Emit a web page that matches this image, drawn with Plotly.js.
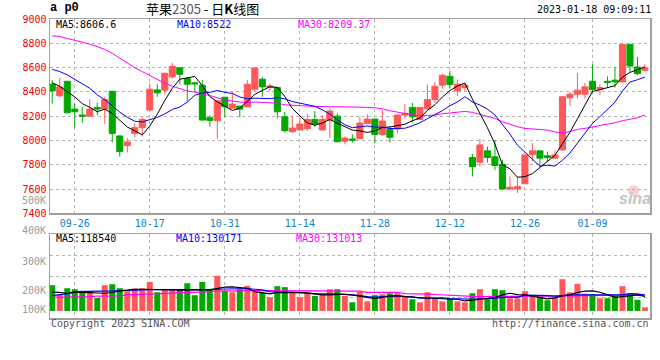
<!DOCTYPE html>
<html><head><meta charset="utf-8">
<script src="https://cdn.plot.ly/plotly-3.0.1.min.js"></script>
<style>html,body{margin:0;padding:0;background:#fff}#chart{width:660px;height:360px}</style>
</head><body><div id="chart"></div>
<script>
// ---- data ----
const dates = ['09-21','09-22','09-23','09-26','09-27','09-28','09-29','09-30',
 '10-10','10-11','10-12','10-13','10-14','10-17','10-18','10-19','10-20','10-21','10-24','10-25','10-26','10-27','10-28','10-31',
 '11-01','11-02','11-03','11-04','11-07','11-08','11-09','11-10','11-11','11-14','11-15','11-16','11-17','11-18','11-21','11-22','11-23','11-24','11-25','11-28','11-29','11-30',
 '12-01','12-02','12-05','12-06','12-07','12-08','12-09','12-12','12-13','12-14','12-15','12-16','12-19','12-20','12-21','12-22','12-23','12-26','12-27','12-28','12-29','12-30',
 '01-03','01-04','01-05','01-06','01-09','01-10','01-11','01-12','01-13','01-16','01-17','01-18'];
const openP = [8463,8367,8487,8258,8209,8200,8272,8258,8405,8037,
 7957,8058,8105,8250,8416,8414,8523,8599,8509,8474,
 8455,8187,8162,8356,8266,8283,8277,8422,8504,8436,
 8436,8195,8072,8086,8097,8173,8086,8168,8200,7993,
 8012,8015,8140,8176,8048,8091,8094,8209,8272,8173,
 8261,8337,8455,8528,8408,8436,7859,7821,7914,7865,
 7804,7600,7602,7643,7884,7914,7873,7854,7922,8351,
 8381,8381,8487,8422,8487,8496,8482,8791,8605,8578];
const highP = [8496,8517,8490,8304,8277,8340,8310,8359,8405,8040,
 8018,8140,8190,8468,8463,8556,8638,8600,8523,8482,
 8496,8209,8326,8356,8400,8283,8496,8600,8523,8468,
 8436,8236,8200,8190,8217,8242,8209,8263,8222,8031,
 8050,8195,8214,8176,8250,8113,8209,8299,8310,8272,
 8460,8482,8550,8572,8501,8474,7889,8012,7949,8004,
 7840,7703,7703,7881,7977,7914,7908,7916,8364,8400,
 8556,8474,8627,8463,8528,8605,8796,8791,8687,8627];
const lowP = [8304,8359,8225,8105,8146,8195,8206,8135,7985,7867,
 7900,8023,8031,8250,8359,8381,8509,8463,8324,8400,
 8162,8113,8015,8195,8266,8190,8272,8403,8359,8405,
 8181,8064,8064,8086,8080,8113,8086,8023,7982,7968,
 7982,8015,8132,7977,8037,7982,8058,8181,8149,8173,
 8250,8310,8427,8427,8367,8408,7703,7785,7818,7758,
 7595,7590,7567,7643,7829,7780,7821,7854,7916,8283,
 8345,8345,8386,8373,8436,8436,8482,8564,8537,8564];
const closeP = [8408,8441,8228,8236,8200,8258,8258,8337,8058,7908,
 7987,8105,8173,8422,8392,8553,8610,8545,8463,8466,
 8168,8165,8326,8277,8299,8258,8463,8597,8441,8449,
 8236,8080,8102,8135,8173,8135,8173,8242,7990,8020,
 8001,8143,8176,8050,8160,8026,8209,8222,8195,8272,
 8337,8446,8537,8460,8463,8455,7784,7963,7859,7793,
 7600,7615,7620,7881,7914,7854,7859,7881,8359,8381,
 8414,8441,8420,8436,8476,8482,8791,8613,8550,8597];
const ma5P = [8474,8446,8400,8359,8303,8273,8236,8258,8222,8164,
 8110,8079,8046,8119,8216,8329,8430,8504,8513,8527,
 8450,8361,8318,8280,8247,8265,8325,8379,8412,8442,
 8437,8361,8262,8200,8145,8125,8144,8172,8143,8112,
 8085,8079,8066,8078,8106,8111,8124,8133,8162,8185,
 8247,8294,8357,8410,8449,8472,8340,8225,8105,7971,
 7800,7766,7697,7702,7726,7777,7826,7878,7973,8067,
 8179,8295,8403,8418,8437,8451,8521,8560,8582,8606.6];
const ma10P = [8586,8567,8540,8505,8468,8430,8375,8335,8285,8233,
 8191,8158,8152,8171,8190,8219,8255,8275,8316,8372,
 8390,8396,8411,8397,8387,8358,8343,8348,8346,8344,
 8351,8343,8320,8306,8293,8281,8252,8217,8172,8129,
 8105,8111,8119,8110,8109,8098,8102,8100,8120,8145,
 8179,8209,8245,8286,8317,8360,8317,8291,8258,8210,
 8136,8053,7961,7903,7848,7788,7796,7788,7838,7896,
 7978,8060,8140,8196,8252,8315,8408,8481,8500,8522];
const ma30P = [8862,8856,8840,8826,8813,8793,8772,8750,8717,8676,
 8635,8599,8567,8534,8498,8471,8446,8425,8408,8397,
 8386,8370,8351,8334,8324,8315,8310,8316,8315,8313,
 8307,8293,8288,8285,8283,8280,8277,8277,8277,8277,
 8277,8274,8272,8269,8261,8244,8233,8217,8209,8201,
 8206,8209,8220,8225,8233,8239,8231,8214,8201,8181,
 8154,8132,8113,8099,8094,8091,8086,8070,8062,8072,
 8091,8099,8110,8124,8135,8146,8162,8173,8187,8209.37];
// volume in thousands (K)
const volK = [211,132,186,178,164,162,107,211,219,186,
 162,184,186,238,153,175,175,173,227,129,
 238,181,288,164,153,178,205,159,151,112,
 203,195,159,112,145,123,132,178,178,123,
 71,159,79,129,137,145,145,118,96,71,
 153,104,79,99,79,71,145,178,104,178,
 170,104,104,162,118,115,88,112,260,153,
 222,142,137,104,104,123,203,145,92,30];
const vma5K = [153,153,142,153,153,151,148,145,151,164,
 170,178,178,178,173,173,173,170,173,173,
 173,173,186,195,197,192,186,159,151,140,
 151,153,153,153,148,137,132,132,137,137,
 132,123,112,101,112,123,123,118,115,104,
 104,104,99,96,96,82,88,99,104,110,
 132,145,134,132,121,112,99,107,123,132,
 151,162,164,153,132,112,118,126,132,118.54];
const vma10K = [126,132,142,159,159,159,159,159,164,167,
 170,170,173,175,175,175,170,170,170,170,
 170,175,178,181,184,184,184,178,173,159,
 153,153,153,151,145,140,137,140,140,137,
 129,126,118,112,118,123,123,118,115,104,
 107,110,107,101,99,93,96,99,99,104,
 112,112,112,129,129,132,126,121,129,132,
 132,132,132,132,132,132,132,142,140,130.171];
const vma30K = [112,112,118,118,118,118,121,121,121,123,
 132,134,137,140,142,145,145,145,148,153,
 156,159,162,164,164,167,170,167,167,167,
 167,167,167,167,164,164,164,164,162,162,
 162,162,153,153,153,153,153,142,142,142,
 138,135,131,127,124,121,119,118,118,118,
 118,118,118,118,118,118,118,118,121,122,
 124,125,126,127,128,128,129,130,130,131.013];
const priceTicks = [7400,7600,7800,8000,8200,8400,8600,8800,9000];
const dateTicks = ['09-26','10-17','10-31','11-14','11-28','12-12','12-26','01-09'];
const volTickText = ['500K','400K','300K','200K','100K'];
const priceMaLabels = ['MA5:8606.6','MA10:8522','MA30:8209.37'];
const volMaLabels = ['MA5:118540','MA10:130171','MA30:131013'];
const titleText = '苹果<span style="color:#555">2305</span> - 日<b>K</b>线图';
const symbolText = 'a p0';
const timeText = '2023-01-18 09:09:11';
const copyText = 'Copyright 2023 SINA.COM';
const urlText = 'http://finance.sina.com.cn';

// ---- styles ----
const RED = '#ff5858', GREEN = '#00a800';
const MA_COLORS = ['#000000', '#0000ff', '#ff00ff'];
const MONO = 'DejaVu Sans Mono, monospace';
const GRID = '#b4b4b4', BORDER = '#a0a0a0';

const volColors = closeP.map((c, i) => c >= openP[i] ? RED : GREEN);

const traces = [
  {type: 'candlestick', x: dates, open: openP, high: highP, low: lowP, close: closeP,
   xaxis: 'x', yaxis: 'y', whiskerwidth: 0, hoverinfo: 'skip',
   increasing: {line: {color: RED, width: 1}, fillcolor: RED},
   decreasing: {line: {color: GREEN, width: 1}, fillcolor: GREEN}},
  {type: 'scatter', mode: 'lines', x: dates, y: ma30P, line: {color: MA_COLORS[2], width: 1}, xaxis: 'x', yaxis: 'y', hoverinfo: 'skip'},
  {type: 'scatter', mode: 'lines', x: dates, y: ma10P, line: {color: MA_COLORS[1], width: 1}, xaxis: 'x', yaxis: 'y', hoverinfo: 'skip'},
  {type: 'scatter', mode: 'lines', x: dates, y: ma5P, line: {color: MA_COLORS[0], width: 1}, xaxis: 'x', yaxis: 'y', hoverinfo: 'skip'},
  {type: 'bar', x: dates, y: volK, marker: {color: volColors, line: {width: 0}}, xaxis: 'x2', yaxis: 'y2', hoverinfo: 'skip'},
  {type: 'scatter', mode: 'lines', x: dates, y: vma30K, line: {color: MA_COLORS[2], width: 1.2}, xaxis: 'x2', yaxis: 'y2', hoverinfo: 'skip'},
  {type: 'scatter', mode: 'lines', x: dates, y: vma10K, line: {color: MA_COLORS[1], width: 1.2}, xaxis: 'x2', yaxis: 'y2', hoverinfo: 'skip'},
  {type: 'scatter', mode: 'lines', x: dates, y: vma5K, line: {color: MA_COLORS[0], width: 1.2}, xaxis: 'x2', yaxis: 'y2', hoverinfo: 'skip'}
];

const xRange = [-0.3, dates.length - 0.33];
const axCommon = {showline: true, mirror: true, linecolor: BORDER, linewidth: 1.5,
  showgrid: true, gridcolor: GRID, griddash: 'dot', gridwidth: 1, zeroline: false, ticks: '', fixedrange: true};

const annotations = [];
const mk = (text, x, y, xanchor, color, size, extra) => Object.assign({
  text, x, y, xref: 'paper', yref: 'paper', xanchor, yanchor: 'middle', showarrow: false,
  font: {family: MONO, size, color}, borderpad: 0}, extra || {});
const priceMaX = [0.008, 0.21, 0.412];
const volMaX = [0.008, 0.208, 0.408];
priceMaLabels.forEach((t, k) => annotations.push(mk(t, priceMaX[k], 0.981, 'left', MA_COLORS[k], 10)));
volMaLabels.forEach((t, k) => annotations.push(mk(t, volMaX[k], 0.266, 'left', MA_COLORS[k], 10)));
const volLabelY = [0.392, 0.292, 0.1906, 0.0936, 0.0268];
volTickText.forEach((t, k) => annotations.push(mk(t, 0, volLabelY[k], 'right', '#9a9a9a', 10, {xshift: -3})));
annotations.push(mk(titleText, 0.254, 1.036, 'center', '#000', 13, {font: {family: 'Noto Sans CJK SC', size: 13, color: '#000'}}));
annotations.push(mk(symbolText, -0.002, 1.036, 'left', '#000', 11, {font: {family: 'Liberation Mono', size: 12, color: '#000', weight: 'bold'}}));
annotations.push(mk(timeText, 1.003, 1.033, 'right', '#000', 10));
annotations.push(mk(copyText, 0, -0.018, 'left', '#555', 10));
annotations.push(mk(urlText, 1, -0.02, 'right', '#555', 10));
annotations.push(mk('<i><b>sina</b></i>', 0.975, 0.398, 'center', '#c4c4c4', 15, {font: {family: 'Liberation Sans', size: 16, color: '#c4c4c4'}}));

const layout = {
  width: 660, height: 360,
  margin: {l: 50, r: 10, t: 19, b: 42, pad: 0},
  paper_bgcolor: '#fff', plot_bgcolor: '#fff',
  showlegend: false, hovermode: false,
  bargap: 0.2, boxgap: 0.12, boxgroupgap: 0.08,
  xaxis: Object.assign({}, axCommon, {domain: [0, 1], anchor: 'y', type: 'category', range: xRange,
    tickmode: 'array', tickvals: dateTicks, ticktext: dateTicks,
    tickfont: {family: MONO, size: 10, color: '#0a86c8'}, rangeslider: {visible: false}}),
  yaxis: Object.assign({}, axCommon, {domain: [0.3502, 1], anchor: 'x', range: [7400, 9000],
    tickmode: 'array', tickvals: priceTicks, tickfont: {family: MONO, size: 10, color: '#ee0000'}}),
  xaxis2: Object.assign({}, axCommon, {domain: [0, 1], anchor: 'y2', type: 'category', range: xRange,
    tickmode: 'array', tickvals: dateTicks, showticklabels: false, matches: 'x', rangeslider: {visible: false}}),
  yaxis2: Object.assign({}, axCommon, {domain: [0, 0.2809], anchor: 'x2', range: [-57.5, 630],
    tickmode: 'array', tickvals: [114.4, 286.3, 458.1], showticklabels: false}),
  shapes: [{type: 'circle', xref: 'paper', yref: 'paper', x0: 0.963, x1: 0.982, y0: 0.408, y1: 0.444,
    fillcolor: 'rgba(240,150,150,0.45)', line: {width: 0}}],
  annotations
};

Plotly.newPlot('chart', traces, layout, {staticPlot: true, displayModeBar: false});
</script>
</body></html>
